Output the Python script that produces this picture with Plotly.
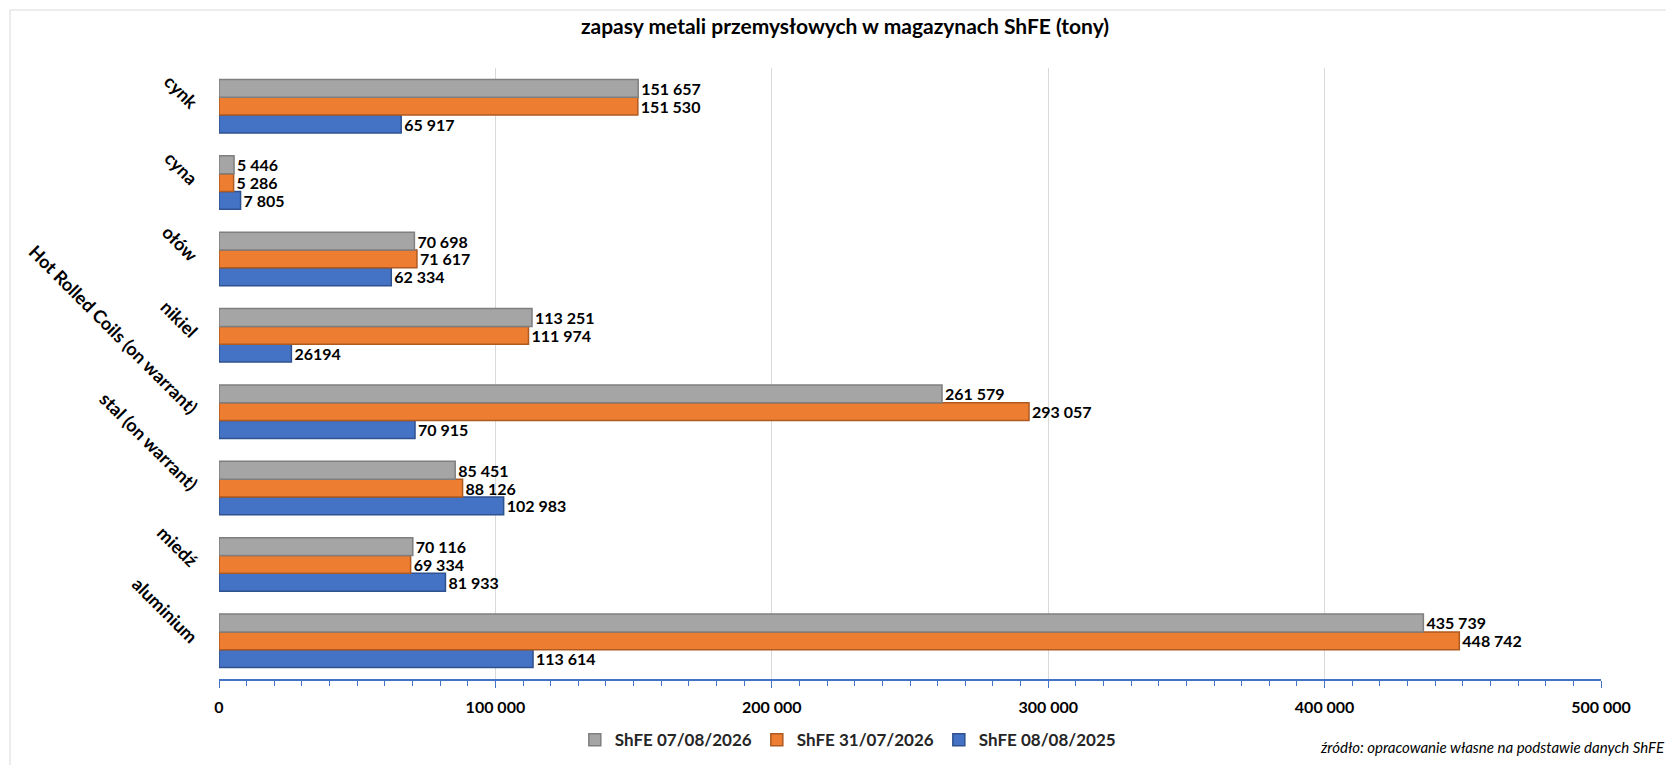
import plotly.graph_objects as go

# categories listed top to bottom as in the chart
categories = [
    "cynk",
    "cyna",
    "ołów",
    "nikiel",
    "Hot Rolled Coils (on warrant)",
    "stal (on warrant)",
    "miedź",
    "aluminium",
]

shfe_2026_08_07 = [151657, 5446, 70698, 113251, 261579, 85451, 70116, 435739]
shfe_2026_07_31 = [151530, 5286, 71617, 111974, 293057, 88126, 69334, 448742]
shfe_2025_08_08 = [65917, 7805, 62334, 26194, 70915, 102983, 81933, 113614]

labels_2026_08_07 = ["151 657", "5 446", "70 698", "113 251", "261 579", "85 451", "70 116", "435 739"]
labels_2026_07_31 = ["151 530", "5 286", "71 617", "111 974", "293 057", "88 126", "69 334", "448 742"]
labels_2025_08_08 = ["65 917", "7 805", "62 334", "26194", "70 915", "102 983", "81 933", "113 614"]

x_ticks = [0, 100000, 200000, 300000, 400000, 500000]

FONT = "Lato"
W, H = 1674, 765
ML, MR, MT, MB = 211, 81, 60, 94
PW, PH = W - ML - MR, H - MT - MB

fig = go.Figure()

# blue first so it sits at the bottom of each group
series = [
    ("ShFE 08/08/2025", shfe_2025_08_08, labels_2025_08_08, "#4472C4", "#2F528F"),
    ("ShFE 31/07/2026", shfe_2026_07_31, labels_2026_07_31, "#ED7D31", "#AE5A21"),
    ("ShFE 07/08/2026", shfe_2026_08_07, labels_2026_08_07, "#A5A5A5", "#7F7F7F"),
]
for name, values, labels, color, edge in series:
    fig.add_trace(go.Bar(
        y=categories,
        x=values,
        name=name,
        orientation="h",
        marker={"color": color, "line": {"color": edge, "width": 1.5}},
        text=labels,
        textposition="outside",
        constraintext="none",
        textfont={"family": FONT, "size": 16, "color": "black", "weight": "bold"},
        cliponaxis=False,
    ))

fig.update_layout(
    width=W,
    height=H,
    paper_bgcolor="white",
    plot_bgcolor="white",
    barmode="group",
    bargap=0.3,
    bargroupgap=0,
    separators=", ",
    font={"family": FONT, "color": "black"},
    margin={"l": ML, "r": MR, "t": MT, "b": MB},
    title={
        "text": "zapasy metali przemysłowych w magazynach ShFE (tony)",
        "x": 0.5,
        "xanchor": "center",
        "y": 0.975,
        "yanchor": "middle",
        "font": {"family": FONT, "size": 21, "color": "black", "weight": "bold"},
    },
    legend={
        "orientation": "h",
        "traceorder": "reversed",
        "x": 0.455,
        "xanchor": "center",
        "y": -0.10,
        "yanchor": "middle",
        "font": {"family": FONT, "size": 17, "color": "#262626", "weight": "bold"},
    },
    showlegend=True,
)

fig.update_xaxes(
    range=[0, 500000],
    tickvals=x_ticks,
    tickformat=",",
    showgrid=True,
    gridcolor="#D9D9D9",
    gridwidth=1,
    zeroline=False,
    showline=True,
    linecolor="#4472C4",
    linewidth=1.5,
    ticks="outside",
    ticklen=7,
    tickcolor="#4472C4",
    tickfont={"family": FONT, "size": 16, "color": "black", "weight": "bold"},
    ticklabelstandoff=6,
    minor={"dtick": 10000, "ticks": "outside", "ticklen": 5, "tickcolor": "#4472C4", "showgrid": False},
)

fig.update_yaxes(
    categoryorder="array",
    categoryarray=list(reversed(categories)),
    tickangle=45,
    showgrid=False,
    showline=False,
    ticks="",
    tickfont={"family": FONT, "size": 18, "color": "black", "weight": "bold"},
    ticklabelstandoff=22,
)

fig.add_annotation(
    text="<i>źródło: opracowanie własne na podstawie danych ShFE</i>",
    xref="paper", yref="paper",
    x=1.048, y=-0.111,
    xanchor="right", yanchor="middle",
    showarrow=False,
    font={"family": FONT, "size": 15, "color": "black"},
)

# thin frame around the whole chart
fig.add_shape(
    type="rect",
    xref="paper", yref="paper",
    x0=-(ML - 2) / PW, x1=(W - ML - 2) / PW,
    y0=-(MB - 2) / PH, y1=(PH + MT - 2) / PH,
    line={"color": "#D9D9D9", "width": 1},
    layer="below",
)

fig.write_html("out.html")
